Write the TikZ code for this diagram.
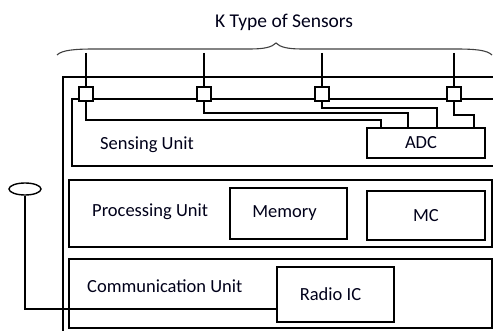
\documentclass[tikz,border=0pt]{standalone}
\usepackage{fontspec}
\setmainfont{Carlito}
\usetikzlibrary{shapes.geometric}
\begin{document}
\begin{tikzpicture}[x=1pt,y=-1pt,
  wire/.style={line width=1.8pt,black},
  sensorbox/.style={draw,line width=1.8pt,fill=white,minimum size=14pt,inner sep=0pt},
  partbox/.style={draw,line width=1.8pt,inner sep=0pt,font=\fontsize{18.5}{22}\selectfont,text=black!90!blue},
  caption/.style={anchor=base west,inner sep=0pt,font=\fontsize{18.5}{22}\selectfont,text=black!90!blue}]
\useasboundingbox (0,0) rectangle (493,331);

% title and brace over the sensors
\node[caption,font=\fontsize{19.5}{23}\selectfont] (title) at (215,28) {K Type of Sensors};
\draw[line width=1.1pt,black!75] (57,55) .. controls (62,50) and (75,49) .. (95,49) -- (250,49)
  .. controls (265,49) and (272,47) .. (276,43) .. controls (280,47) and (287,49) .. (302,49)
  -- (455,49) .. controls (475,49) and (487,50) .. (492,55);

% node housing and sensing unit frame (open to the right)
\draw[wire] (63,331) -- (63,77) -- (493,77);
\draw[wire] (493,99) -- (72,99) -- (72,166) -- (493,166);

% sensors
\foreach \i/\x in {1/86,2/204,3/322,4/454} {
  \coordinate (t\i) at (\x,53);
  \node[sensorbox] (s\i) at (\x,94) {};
  \draw[wire] (t\i) -- (s\i.north);
}

% ADC and its inputs
\node[partbox,minimum width=118pt,minimum height=30pt] (adc) at (426,143) {\hspace*{-10pt}ADC};
\coordinate (a1) at (381,128);
\coordinate (a2) at (408,128);
\coordinate (a3) at (437,128);
\coordinate (a4) at (474,128);
\draw[wire] (s1.south) -- ++(0,18) -| (a1);
\draw[wire] (s2.south) -- ++(0,11) -| (a2);
\draw[wire] (s3.south) -- ++(0,6) -| (a3);
\draw[wire] (s4.south) -- ++(0,13) -| (a4);
\node[caption] (sensing) at (100,150) {Sensing Unit};

% processing unit
\draw[wire] (69,180) rectangle (492,247);
\node[caption] (processing) at (92,216.7) {Processing Unit};
\node[partbox,minimum width=117pt,minimum height=51pt] (mem) at (288.5,213.5) {\hspace*{-8pt}Memory};
\node[partbox,minimum width=118pt,minimum height=49pt] (mc) at (426,215.5) {MC};

% communication unit
\draw[wire] (69,259) rectangle (492,328);
\node[caption] (comm) at (87,292.7) {Communication Unit};
\node[partbox,minimum width=117pt,minimum height=55pt,text depth=-4pt] (radio) at (335.5,294.5) {\hspace*{-10pt}Radio IC};

% antenna
\node[draw,ellipse,line width=1.4pt,minimum width=32pt,minimum height=12pt,inner sep=0pt] (ant) at (25,189) {};
\coordinate (rin) at (277,309);
\draw[wire] (ant.south) |- (rin);
\end{tikzpicture}
\end{document}
